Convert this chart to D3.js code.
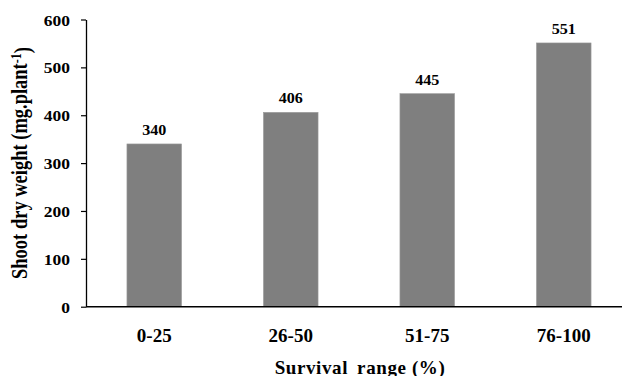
<!DOCTYPE html>
<html>
<head>
<meta charset="utf-8">
<script src="https://cdn.jsdelivr.net/npm/d3@7"></script>
<style>
  html, body { margin: 0; padding: 0; background: #fff; }
  svg { display: block; }
  svg text { font-family: "Liberation Serif", "Times New Roman", Times, serif !important; font-weight: bold; fill: #000; }
</style>
</head>
<body>
<svg id="chart" width="622" height="376"></svg>
<script>
const categories = ["0-25", "26-50", "51-75", "76-100"];
const values = [340, 406, 445, 551];
const yTicks = [0, 100, 200, 300, 400, 500, 600];
const xTitleA = "Survival";
const xTitleB = "range (%)";
const yTitleMain = "Shoot dry weight (mg.plant";
const yTitleSup = "-1";
const yTitleEnd = ")";

const svg = d3.select("#chart");
const mLeft = 86, mRight = 632, mTop = 19.5, mBottom = 306.7;

const x = d3.scaleBand().domain(categories).range([mLeft, mRight]).paddingInner(0.6).paddingOuter(0.3);
const y = d3.scaleLinear().domain([0, 600]).range([mBottom, mTop]);

// bars
svg.append("g").selectAll("rect").data(values).join("rect")
  .attr("x", (d, i) => x(categories[i]))
  .attr("y", d => y(d))
  .attr("width", x.bandwidth())
  .attr("height", d => y(0) - y(d))
  .attr("fill", "#7f7f7f")
  .attr("stroke", "#9a9a9a")
  .attr("stroke-width", 0.6);

// value labels
svg.append("g").selectAll("g").data(values).join("g")
  .attr("transform", (d, i) => `translate(${x(categories[i]) + x.bandwidth() / 2},${y(d) - 9})`)
  .append("text")
  .attr("text-anchor", "middle")
  .attr("transform", "scale(1.15,1)")
  .style("font-size", "14px")
  .text(d => d);

// y axis
const yAxis = svg.append("g").attr("transform", `translate(${mLeft},0)`)
  .call(d3.axisLeft(y).tickValues(yTicks).tickSize(5).tickSizeOuter(0).tickPadding(11));
yAxis.attr("font-family", null).attr("font-size", null);
yAxis.select(".domain").attr("stroke", "#000").attr("stroke-width", 1.3);
yAxis.selectAll(".tick line").attr("stroke", "#000").attr("stroke-width", 1.2);
yAxis.selectAll(".tick text")
  .attr("x", -16 / 1.25)
  .attr("dy", "0.4em")
  .attr("transform", "scale(1.25,1)")
  .style("font-size", "14px")
  .attr("fill", "#000");

// x axis
const xAxis = svg.append("g").attr("transform", `translate(0,${mBottom})`)
  .call(d3.axisBottom(x).tickSize(0).tickSizeOuter(0).tickPadding(22));
xAxis.attr("font-family", null).attr("font-size", null);
xAxis.select(".domain").attr("stroke", "#000").attr("stroke-width", 1.5)
  .attr("d", `M${mLeft},0H${mRight}`);
xAxis.selectAll(".tick text")
  .style("font-size", "19px")
  .attr("fill", "#000");

// x title
const xt = svg.append("text")
  .attr("x", 360).attr("y", 373.5)
  .attr("text-anchor", "middle")
  .style("font-size", "19px")
  .style("letter-spacing", "0.6px");
xt.append("tspan").text(xTitleA);
xt.append("tspan").attr("dx", 9).text(xTitleB);

// y title
const yt = svg.append("text")
  .attr("transform", "translate(27,163) scale(1.2,1) rotate(-90)")
  .attr("text-anchor", "middle")
  .style("font-size", "18.5px");
yt.append("tspan").text(yTitleMain);
yt.append("tspan").attr("dy", "-0.4em").style("font-size", "12px").text(yTitleSup);
yt.append("tspan").attr("dy", "0.4em").text(yTitleEnd);
</script>
</body>
</html>
